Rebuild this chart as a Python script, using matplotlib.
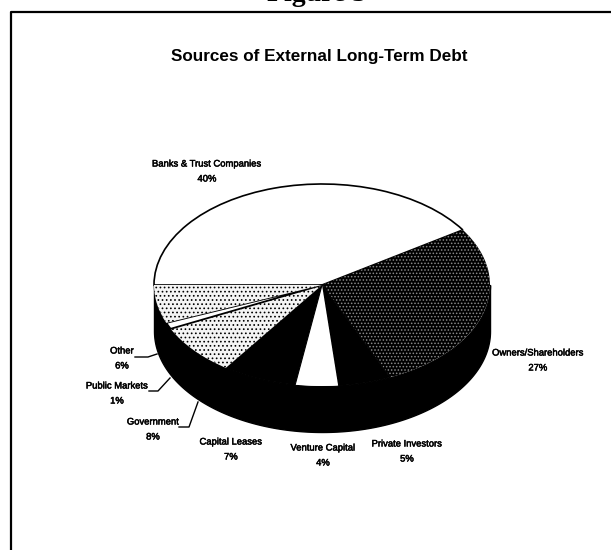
import numpy as np
import matplotlib
matplotlib.use("Agg")
import matplotlib.pyplot as plt
import matplotlib.patheffects as pe

plt.rcParams["font.family"] = ["Liberation Sans"]
plt.rcParams["hatch.linewidth"] = 0.7

# Values
categories = ["Banks & Trust Companies", "Owners/Shareholders", "Private Investors", "Venture Capital",
              "Capital Leases", "Government", "Public Markets", "Other"]
shares = [40, 27, 5, 4, 7, 8, 1, 6]
face_colors = ["white", "black", "black", "white", "black", "#f4f4f4", "white", "#f4f4f4"]
edge_colors = ["black", "#8a8a8a", "black", "white", "black", "black", "black", "black"]
hatches = [None, ".....", None, None, None, "....", None, "...."]
line_widths = [1.2, 0, 0.8, 0, 0.8, 0, 1.3, 0]

# label centres in pixels
label_x = [207, 538, 407, 323, 231, 153, 117, 122]
label_y = [164, 353, 444, 448, 442, 422, 386, 351]

W, H = 611, 550
cx, cy = 322, 285
rx, ry = 168, 101
depth = 46

fig = plt.figure(figsize=(W / 100, H / 100), dpi=100)

# base axes in image pixels, for the frame, the side wall and the text
ax = fig.add_axes([0, 0, 1, 1])
ax.set_xlim(0, W)
ax.set_ylim(H, 0)
ax.axis("off")

t = np.linspace(np.pi, 2 * np.pi, 200)
ax.fill_between(cx + rx * np.cos(t), cy - ry * np.sin(t), cy - ry * np.sin(t) + depth, color="black", lw=1)

# frame of the scanned page
ax.plot([W, 11, 11], [12, 12, H], color="black", lw=1.6)

# the heading is cut off by the top of the scan, as in the reference
ax.text(317, 1, "Figure 3", family="Liberation Serif", weight="bold", fontsize=20, ha="center", va="baseline")
ax.text(319, 56, "Sources of External Long-Term Debt", weight="bold", fontsize=12.3, ha="center", va="center")

heavy = [pe.withStroke(linewidth=0.35, foreground="black")]
for name, val, x, y in zip(categories, shares, label_x, label_y):
    ax.text(x, y, name, fontsize=6.8, ha="center", va="center", path_effects=heavy)
    ax.text(x, y + 15, f"{val}%", fontsize=6.8, ha="center", va="center", path_effects=heavy)

# leader lines
ax.plot([135, 148, 157], [357, 357, 354], color="black", lw=1)
ax.plot([149, 158, 170], [391, 391, 378], color="black", lw=1)
ax.plot([179, 189, 198], [427, 427, 402], color="black", lw=1)

# top face: its own axes sit exactly over the ellipse so the pie gets squashed
pie_ax = fig.add_axes([(cx - rx) / W, (H - cy - ry) / H, 2 * rx / W, 2 * ry / H])
wedges, _ = pie_ax.pie(shares, startangle=180, counterclock=False, radius=1)
pie_ax.set_aspect("auto")
pie_ax.set_xlim(-1, 1)
pie_ax.set_ylim(-1, 1)
pie_ax.patch.set_alpha(0)
for w, fc, ec, h, lw in zip(wedges, face_colors, edge_colors, hatches, line_widths):
    w.set_facecolor(fc)
    w.set_edgecolor(ec)
    w.set_linewidth(lw)
    w.set_clip_on(False)
    if h:
        w.set_hatch(h)

fig.savefig("out.png", dpi=100)
